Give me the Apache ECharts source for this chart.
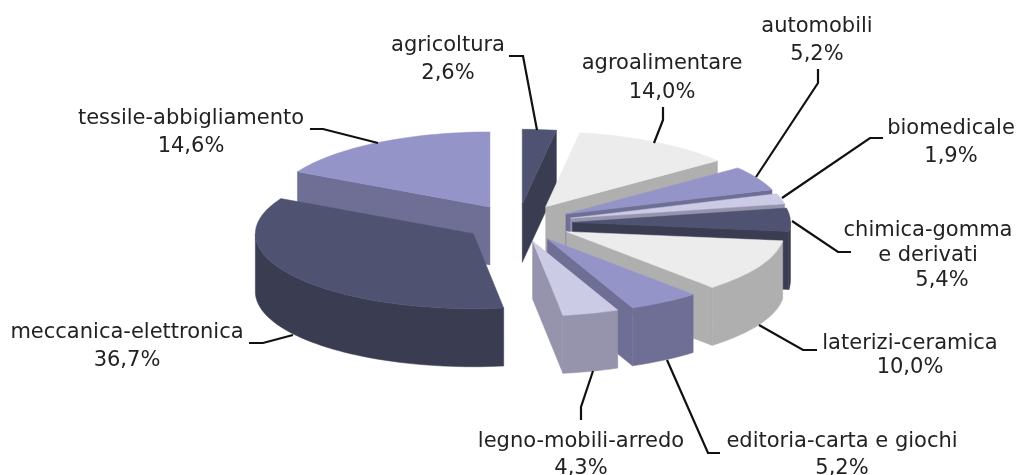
<!DOCTYPE html>
<html>
<head>
<meta charset="utf-8">
<style>
    html, body { margin: 0; padding: 0; background: #fff; }
    #chart { width: 1017px; height: 475px; }
</style>
<script src="https://cdn.jsdelivr.net/npm/echarts@6/dist/echarts.min.js"></script>
</head>
<body>
<div id="chart"></div>
<script>
var categories = ['agricoltura', 'agroalimentare', 'automobili', 'biomedicale', 'chimica-gomma\ne derivati',
    'laterizi-ceramica', 'editoria-carta e giochi', 'legno-mobili-arredo', 'meccanica-elettronica', 'tessile-abbigliamento'];
// the printed percentages
var values = [2.6, 14.0, 5.2, 1.9, 5.4, 10.0, 5.2, 4.3, 36.7, 14.6];
// the slices as drawn in the picture, they do not quite follow the printed numbers
var sliceDegrees = [9, 43, 19, 8, 18, 41, 19, 15, 126, 62];
var colourIndex = [0, 1, 2, 3, 0, 1, 2, 3, 0, 2];

// top colour, side colour
var palette = [['#4f5270', '#3a3c52'], ['#ececec', '#afafaf'], ['#9494c8', '#6f6f96'], ['#cbcbe6', '#9594ac']];

// pie geometry
var cx = 518, cy = 223, rx = 218, ry = 75, depth = 58, explode = 0.25;

// label layout: centre x, first baseline, line height, extra shift of the percentage
var labelX = [448, 662, 817, 951, 928, 910, 842, 581, 127, 191];
var labelY = [50, 68, 31, 133, 235, 348, 446, 446, 337, 123];
var labelLine = [28, 29, 28, 28, 25, 24, 27, 27, 28, 28];
var labelShift = [0, 0, 0, 0, 14, 0, 0, 0, 0, 0];
var leaders = [
    [[509, 56], [523, 56], [537, 130]],
    [[663, 107], [663, 120], [654, 143]],
    [[818, 69], [818, 83], [756, 177]],
    [[883, 138], [870, 138], [782, 198]],
    [[792, 221], [838, 252], [851, 252]],
    [[759, 325], [803, 350], [817, 350]],
    [[667, 360], [708, 453], [720, 453]],
    [[593, 371], [581, 407], [581, 420]],
    [[249, 343], [263, 343], [293, 335]],
    [[310, 129], [323, 129], [378, 143]]
];

function rad(d) { return d * Math.PI / 180; }

function rimPoint(ox, oy, deg, dy) {
    return [ox + rx * Math.sin(rad(deg)), oy - ry * Math.cos(rad(deg)) + dy];
}

function arcPoints(ox, oy, from, to, dy) {
    var pts = [];
    var steps = Math.max(2, Math.ceil((to - from) / 2));
    for (var i = 0; i <= steps; i++) {
        pts.push(rimPoint(ox, oy, from + (to - from) * i / steps, dy));
    }
    return pts;
}

function face(points, colour) {
    return {
        type: 'polygon',
        shape: { points: points },
        style: { fill: colour, stroke: colour, lineWidth: 0.5 }
    };
}

function renderSlice(params, api) {
    var start = api.value(0), end = api.value(1);
    var colours = palette[api.value(2)];
    var mid = (start + end) / 2;
    var ox = cx + explode * rx * Math.sin(rad(mid));
    var oy = cy - explode * ry * Math.cos(rad(mid));
    var children = [];

    // cut faces: only the ones turned to the viewer
    if (start > 180) {
        children.push(face([[ox, oy], rimPoint(ox, oy, start, 0), rimPoint(ox, oy, start, depth), [ox, oy + depth]], colours[1]));
    }
    if (end < 180) {
        children.push(face([[ox, oy], rimPoint(ox, oy, end, 0), rimPoint(ox, oy, end, depth), [ox, oy + depth]], colours[1]));
    }
    // outer wall, front half only
    var from = Math.max(start, 90), to = Math.min(end, 270);
    if (to > from) {
        var wall = arcPoints(ox, oy, from, to, 0).concat(arcPoints(ox, oy, from, to, depth).reverse());
        children.push(face(wall, colours[1]));
    }
    children.push(face([[ox, oy]].concat(arcPoints(ox, oy, start, end, 0)), colours[0]));
    return { type: 'group', children: children };
}

// slices with cumulated angles, back ones are painted first
var sliceData = [];
var angle = 0;
for (let i = 0; i < sliceDegrees.length; i++) {
    sliceData.push([angle, angle + sliceDegrees[i], colourIndex[i]]);
    angle += sliceDegrees[i];
}
sliceData.sort(function (a, b) {
    return Math.cos(rad((b[0] + b[1]) / 2)) - Math.cos(rad((a[0] + a[1]) / 2));
});

var graphics = [];
for (let i = 0; i < categories.length; i++) {
    var lines = categories[i].split('\n');
    var percent = values[i].toFixed(1).replace('.', ',') + '%';
    lines.forEach(function (line, k) {
        graphics.push(textLine(line, labelX[i], labelY[i] + k * labelLine[i]));
    });
    graphics.push(textLine(percent, labelX[i] + labelShift[i], labelY[i] + lines.length * labelLine[i]));
    graphics.push({
        type: 'polyline',
        shape: { points: leaders[i] },
        style: { fill: null, stroke: '#111', lineWidth: 2.2 },
        z: 10
    });
}

function textLine(text, x, baseline) {
    return {
        type: 'text',
        x: x,
        y: baseline - 4,
        style: {
            text: text,
            fill: '#222',
            font: '21px "DejaVu Sans"',
            textAlign: 'center',
            textVerticalAlign: 'middle'
        },
        z: 11
    };
}

var myChart = echarts.init(document.getElementById('chart'));
var option = {
    backgroundColor: '#fff',
    animation: false,
    graphic: { elements: graphics },
    series: [
        {
            type: 'custom',
            coordinateSystem: 'none',
            renderItem: renderSlice,
            silent: true,
            data: sliceData
        }
    ]
};
myChart.setOption(option);
</script>
</body>
</html>
